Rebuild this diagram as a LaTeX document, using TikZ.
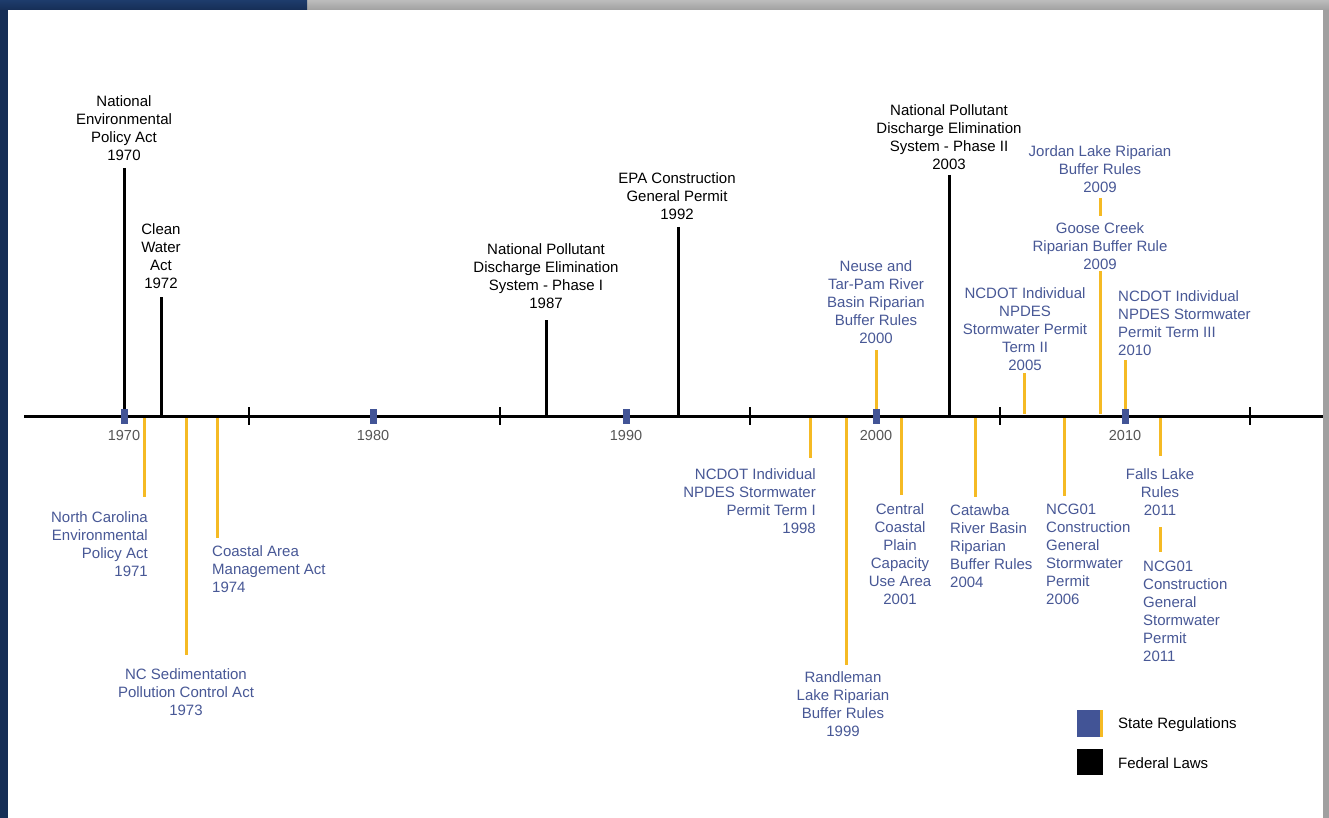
\documentclass[tikz,border=0pt]{standalone}
\usepackage{fontspec}
\setmainfont{Liberation Sans}
\definecolor{navy}{RGB}{22,46,86}
\definecolor{navytop}{RGB}{30,60,108}
\definecolor{framegray}{RGB}{160,160,160}
\definecolor{stateblue}{RGB}{66,84,150}
\definecolor{statetext}{RGB}{72,88,150}
\definecolor{gold}{RGB}{245,186,36}
\definecolor{yeargray}{RGB}{85,85,85}
\tikzset{
  lbl/.style={inner sep=0pt, align=center, font=\fontsize{15}{18}\selectfont},
  fedlbl/.style={lbl, text=black},
  statelbl/.style={lbl, text=statetext},
  yearlbl/.style={inner sep=0pt, font=\fontsize{14.5}{17}\selectfont, text=yeargray},
  fedline/.style={line width=3pt, black},
  stateline/.style={line width=3pt, gold},
  axisline/.style={line width=3pt, black},
  tickline/.style={line width=1.8pt, black},
  decade/.style={fill=stateblue, draw=none, minimum width=7pt, minimum height=15pt, inner sep=0pt},
  legtext/.style={inner sep=0pt, anchor=west, font=\fontsize{15}{18}\selectfont, text=black}
}
\begin{document}
\begin{tikzpicture}[x=1pt,y=-1pt]
\useasboundingbox (0,0) rectangle (1329,818);
\fill[white] (0,0) rectangle (1329,818);
% frame
\shade[top color=framegray!70, bottom color=framegray] (307,0) rectangle (1329,10);
\fill[framegray] (1323,10) rectangle (1329,818);
\shade[top color=navytop, bottom color=navy] (0,0) rectangle (307,10);
\fill[navy] (0,10) rectangle (8,818);

% axis
\coordinate (axL) at (24,416);
\coordinate (axR) at (1323,416);
\draw[axisline] (axL) -- (axR);
\foreach \x/\n in {249/t1975,500/t1985,750/t1995,1000/t2005,1250/t2015}{
  \coordinate (\n a) at (\x,407);
  \coordinate (\n b) at (\x,425);
  \draw[tickline] (\n a) -- (\n b);
}

% ---------- federal laws ----------
\node[fedlbl, anchor=north] (f1970) at (124,95) {National\\Environmental\\Policy Act\\1970};
\coordinate (f1970t) at (124,168); \coordinate (f1970b) at (124,416);
\draw[fedline] (f1970t) -- (f1970b);

\node[fedlbl, anchor=north] (f1972) at (161,223) {Clean\\Water\\Act\\1972};
\coordinate (f1972t) at (161,297); \coordinate (f1972b) at (161,416);
\draw[fedline] (f1972t) -- (f1972b);

\node[fedlbl, anchor=north] (f1987) at (546,243) {National Pollutant\\Discharge Elimination\\System - Phase I\\1987};
\coordinate (f1987t) at (546,320); \coordinate (f1987b) at (546,416);
\draw[fedline] (f1987t) -- (f1987b);

\node[fedlbl, anchor=north] (f1992) at (677,172) {EPA Construction\\General Permit\\1992};
\coordinate (f1992t) at (678,227); \coordinate (f1992b) at (678,416);
\draw[fedline] (f1992t) -- (f1992b);

\node[fedlbl, anchor=north] (f2003) at (949,104) {National Pollutant\\Discharge Elimination\\System - Phase II\\2003};
\coordinate (f2003t) at (949,175); \coordinate (f2003b) at (949,416);
\draw[fedline] (f2003t) -- (f2003b);

% ---------- state regulations: above ----------
\node[statelbl, anchor=north] (s2000) at (876,260) {Neuse and\\Tar-Pam River\\Basin Riparian\\Buffer Rules\\2000};
\coordinate (s2000t) at (876,350); \coordinate (s2000b) at (876,414);
\draw[stateline] (s2000t) -- (s2000b);

\node[statelbl, anchor=north] (s2005) at (1025,287) {NCDOT Individual\\NPDES\\Stormwater Permit\\Term II\\2005};
\coordinate (s2005t) at (1024,373); \coordinate (s2005b) at (1024,414);
\draw[stateline] (s2005t) -- (s2005b);

\node[statelbl, anchor=north] (s2009j) at (1100,145) {Jordan Lake Riparian\\Buffer Rules\\2009};
\coordinate (s2009jt) at (1100,198); \coordinate (s2009jb) at (1100,216);
\draw[stateline] (s2009jt) -- (s2009jb);

\node[statelbl, anchor=north] (s2009g) at (1100,222) {Goose Creek\\Riparian Buffer Rule\\2009};
\coordinate (s2009gt) at (1100,271); \coordinate (s2009gb) at (1100,414);
\draw[stateline] (s2009gt) -- (s2009gb);

\node[statelbl, anchor=north west, align=left] (s2010) at (1118,290) {NCDOT Individual\\NPDES Stormwater\\Permit Term III\\2010};
\coordinate (s2010t) at (1125,360); \coordinate (s2010b) at (1125,414);
\draw[stateline] (s2010t) -- (s2010b);

% ---------- state regulations: below ----------
\node[statelbl, anchor=north east, align=right] (s1971) at (148,511) {North Carolina\\Environmental\\Policy Act\\1971};
\coordinate (s1971t) at (144,418); \coordinate (s1971b) at (144,497);
\draw[stateline] (s1971t) -- (s1971b);

\node[statelbl, anchor=north] (s1973) at (186,668) {NC Sedimentation\\Pollution Control Act\\1973};
\coordinate (s1973t) at (186,418); \coordinate (s1973b) at (186,655);
\draw[stateline] (s1973t) -- (s1973b);

\node[statelbl, anchor=north west, align=left] (s1974) at (212,545) {Coastal Area\\Management Act\\1974};
\coordinate (s1974t) at (217,418); \coordinate (s1974b) at (217,538);
\draw[stateline] (s1974t) -- (s1974b);

\node[statelbl, anchor=north east, align=right] (s1998) at (816,468) {NCDOT Individual\\NPDES Stormwater\\Permit Term I\\1998};
\coordinate (s1998t) at (810,418); \coordinate (s1998b) at (810,458);
\draw[stateline] (s1998t) -- (s1998b);

\node[statelbl, anchor=north] (s1999) at (843,671) {Randleman\\Lake Riparian\\Buffer Rules\\1999};
\coordinate (s1999t) at (846,418); \coordinate (s1999b) at (846,665);
\draw[stateline] (s1999t) -- (s1999b);

\node[statelbl, anchor=north] (s2001) at (900,503) {Central\\Coastal\\Plain\\Capacity\\Use Area\\2001};
\coordinate (s2001t) at (901,418); \coordinate (s2001b) at (901,495);
\draw[stateline] (s2001t) -- (s2001b);

\node[statelbl, anchor=north west, align=left] (s2004) at (950,504) {Catawba\\River Basin\\Riparian\\Buffer Rules\\2004};
\coordinate (s2004t) at (975,418); \coordinate (s2004b) at (975,497);
\draw[stateline] (s2004t) -- (s2004b);

\node[statelbl, anchor=north west, align=left] (s2006) at (1046,504) {NCG01\\Construction\\General\\Stormwater\\Permit\\2006};
\coordinate (s2006t) at (1064,418); \coordinate (s2006b) at (1064,496);
\draw[stateline] (s2006t) -- (s2006b);

\node[statelbl, anchor=north] (s2011f) at (1160,468) {Falls Lake\\Rules\\2011};
\coordinate (s2011ft) at (1160,418); \coordinate (s2011fb) at (1160,456);
\draw[stateline] (s2011ft) -- (s2011fb);

\node[statelbl, anchor=north west, align=left] (s2011n) at (1143,561) {NCG01\\Construction\\General\\Stormwater\\Permit\\2011};
\coordinate (s2011nt) at (1160,527); \coordinate (s2011nb) at (1160,552);
\draw[stateline] (s2011nt) -- (s2011nb);

% decade markers and years
\foreach \x/\y in {124/1970,373/1980,626/1990,876/2000,1125/2010}{
  \node[decade] (d\y) at (\x,416) {};
  \node[yearlbl, anchor=north] (y\y) at (\x,430) {\y};
}

% legend
\node[fill=stateblue, minimum width=26pt, minimum height=27pt, inner sep=0pt, anchor=north west] (legS) at (1077,710) {};
\fill[gold] (1100,710) rectangle (1103,737);
\node[legtext] (legSt) at (1118,725) {State Regulations};
\node[fill=black, minimum width=26pt, minimum height=26pt, inner sep=0pt, anchor=north west] (legF) at (1077,749) {};
\node[legtext] (legFt) at (1118,763) {Federal Laws};
\end{tikzpicture}
\end{document}
